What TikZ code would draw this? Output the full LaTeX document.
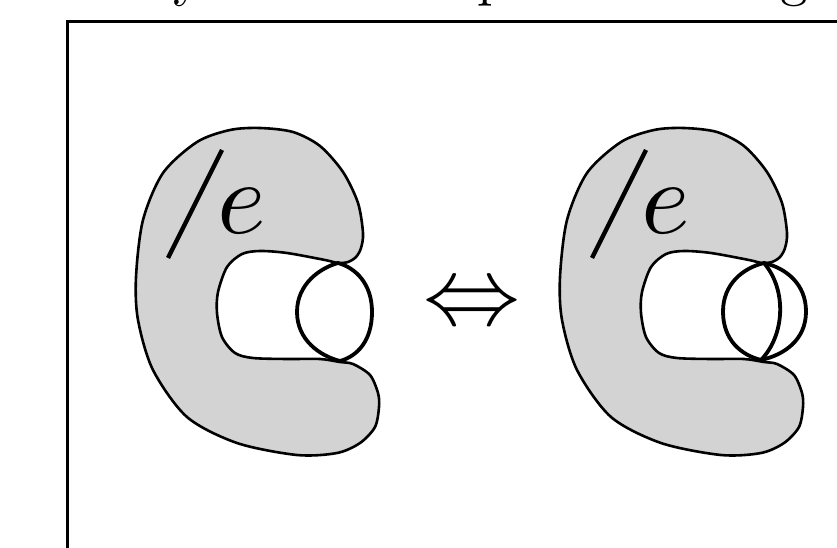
\documentclass[tikz,border=0pt]{standalone}
\usepackage{xcolor}
\usepackage{tikz}
\definecolor{blobfill}{HTML}{D3D3D3}

\begin{document}
\begin{tikzpicture}[x=1pt, y=-1pt,
  blob/.style={draw=black, line width=2.6pt, fill=blobfill},
  ring/.style={draw=black, line width=3.8pt, line join=round},
  slash/.style={draw=black, line width=4.4pt},
  frame/.style={draw=black, line width=3pt},
  lbl/.style={inner sep=0pt, scale=10.4},
  captxt/.style={inner sep=0pt, anchor=base west, scale=5.5}
]
\useasboundingbox (0,0) rectangle (837,548);
\draw[frame] (67.5,600) |- (900,21.5);
\node[captxt] (capy) at (172,-4) {y};
\node[captxt] (capp) at (476,-4) {p};
\node[captxt] (capg) at (779,-4) {g};

\foreach \dx/\nm in {0/L,424/R} {
  \begin{scope}[xshift=\dx pt]
    \draw[blob] plot[smooth cycle] coordinates {
      (260,128) (293,132) (320,146) (343,172) (358,203) (363,233)
      (361,248) (356,257) (348,262) (338,263) (325,260) (287,253)
      (260,251) (242,254) (227,267) (218,292) (217,313) (222,337)
      (235,353) (253,358) (287,359) (320,359) (340,362) (353,364)
      (370,375) (378,393) (379,407) (375,427) (360,443) (337,453)
      (297,455) (237,443) (187,417) (153,370) (138,320) (136,277)
      (143,220) (163,173) (197,142) (230,130)};
    \draw[slash] (168,258) -- (222,150);
    \node[lbl] (e\nm) at (242,211) {$e$};
  \end{scope}
}

\node[inner sep=0pt, scale=9.7] (iff) at (472,307) {$\Leftrightarrow$};

\draw[ring] (338,263) .. controls (320,268) and (297,284) .. (297,312)
  .. controls (297,340) and (320,356) .. (340,361)
  .. controls (358,356) and (372,340) .. (372,312)
  .. controls (372,284) and (356,268) .. cycle;
\draw[ring] (764,263) .. controls (743,268) and (723,284) .. (723,311.5)
  .. controls (723,340) and (741,355) .. (761,360)
  .. controls (784,355) and (806,340) .. (806,311.5)
  .. controls (806,284) and (786,268) .. cycle;
\draw[ring] (764,263) .. controls (787,290) and (785,335) .. (761,360);
\end{tikzpicture}
\end{document}
